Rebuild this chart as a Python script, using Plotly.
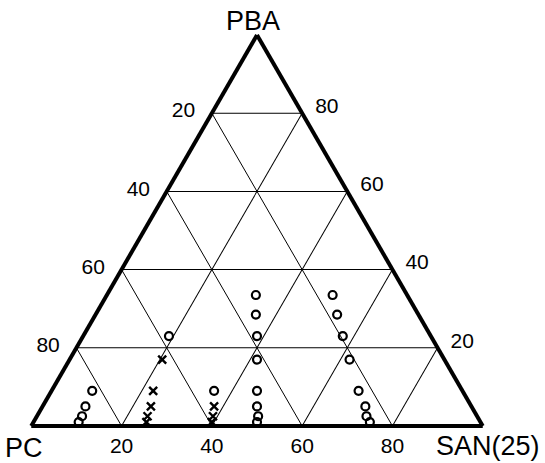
import plotly.graph_objects as go

# Blend compositions (wt%), PBA / PC / SAN(25)
circ_pba = [9, 5, 2.5, 1,
            23,
            9,
            33.5, 28.5, 23, 17, 9, 5, 2.5, 1,
            33.5, 28.5, 23, 17, 9, 5, 2.5, 1]
circ_san = [9, 9.5, 10, 10,
            19,
            36,
            33, 35.5, 38.5, 41.5, 45.5, 47.5, 49, 49.5,
            50, 53.5, 57.5, 62, 68, 71.5, 73, 74.5]
circ_pc = [82, 85.5, 87.5, 89,
           58,
           55,
           33.5, 36, 38.5, 41.5, 45.5, 47.5, 48.5, 49.5,
           16.5, 18, 19.5, 21, 23, 23.5, 24.5, 24.5]

cross_pba = [17, 9, 5, 2.5, 1, 5, 2.5, 1]
cross_san = [20.5, 22.5, 24, 24.5, 25, 38, 39, 39.5]
cross_pc = [62.5, 68.5, 71, 73, 74, 57, 58.5, 59.5]

grid_vals = [20, 40, 60, 80]
grid_text = ["80", "60", "40", "20"]

FONT = "Liberation Sans"
NBSP = "\u00a0"

fig = go.Figure()
fig.add_trace(go.Scatterternary(
    a=circ_pba, b=circ_pc, c=circ_san, mode="markers",
    marker=dict(symbol="circle-open", size=8, color="black",
                line=dict(width=2.2, color="black")),
    showlegend=False, hoverinfo="skip"))
fig.add_trace(go.Scatterternary(
    a=cross_pba, b=cross_pc, c=cross_san, mode="markers",
    marker=dict(symbol="x-thin", size=8, color="black",
                line=dict(width=2.4, color="black")),
    showlegend=False, hoverinfo="skip"))


def axis(ticklen, labels):
    return dict(
        title=dict(text=""),
        tickmode="array", tickvals=grid_vals, ticktext=labels,
        tickfont=dict(family=FONT, size=21, color="black"),
        ticks="outside" if ticklen else "", ticklen=ticklen,
        tickcolor="rgba(0,0,0,0)",
        showline=True, linecolor="black", linewidth=4,
        showgrid=True, gridcolor="black", gridwidth=1.3,
        min=0,
    )


title_font = dict(family=FONT, size=27, color="black")
fig.update_layout(
    width=545, height=463,
    margin=dict(l=31, r=62, t=35, b=37),
    paper_bgcolor="white",
    ternary=dict(
        sum=100,
        bgcolor="white",
        aaxis=axis(12, grid_text),
        baxis=axis(0, grid_text),
        caxis=axis(5, [NBSP + t for t in grid_text]),
    ),
    showlegend=False,
    annotations=[
        dict(text="PBA", x=0.491, y=1.035, xref="paper", yref="paper",
             xanchor="center", yanchor="middle", showarrow=False, font=title_font),
        dict(text="PC", x=-0.016, y=-0.056, xref="paper", yref="paper",
             xanchor="center", yanchor="middle", showarrow=False, font=title_font),
        dict(text="SAN(25)", x=1.012, y=-0.05, xref="paper", yref="paper",
             xanchor="center", yanchor="middle", showarrow=False, font=title_font),
    ],
)

fig.write_html("out.html")
